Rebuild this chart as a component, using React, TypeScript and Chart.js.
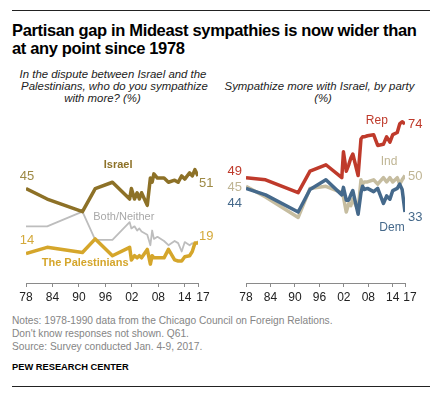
import React, { useEffect, useRef } from "react";
import { Chart, registerables } from "chart.js";

Chart.register(...registerables);

// ---- Data ----
const surveyYears = [1978, 1982.8, 1990.8, 1993.7, 1997.6, 2001.5, 2001.9, 2002.6, 2003.2, 2003.7, 2004.2, 2005.5, 2006.2, 2006.6, 2007.0, 2007.8, 2009.3, 2010.3, 2011.7, 2012.5, 2013.3, 2014.0, 2015.1, 2015.7, 2016.3, 2017.0];

const israel = [45, 40, 34, 45, 48, 40, 45, 40, 43, 40, 43, 37, 50, 48, 52, 50, 50, 48, 49, 48, 51, 49.5, 52.5, 51, 54, 51];
const palestinians = [14, 17, 14.5, 21, 13, 17, 11, 13, 12, 13, 12, 16, 9, 13, 12, 12, 12, 16, 11, 10.5, 10.5, 12.5, 13, 15, 19, 19];
const bothNeither = [27, 27, 34, 20.5, 20.5, 29, 26, 27, 25, 26, 24.5, 23, 18, 25, 21, 22, 20, 18, 20, 19, 15, 19.5, 18, 19, 18, 20];

const rep = [49, 48, 42, 52, 55, 49, 61, 52, 55, 58, 60, 50, 67, 68, 68, 68.5, 69, 64, 64.5, 68, 65.5, 69, 70, 74, 75, 74];
const ind = [45, 40, 30.5, 44, 45, 42, 40, 33, 37, 36, 39, 34, 48, 46, 47, 47, 48, 46, 49, 47, 49, 47, 49, 46, 48, 50];
const dem = [44, 41, 33, 43.5, 48, 41, 44.5, 38.5, 38.5, 41, 43, 32, 42, 45, 43.5, 44, 42.5, 44, 37, 40.5, 39, 43, 44, 46, 43.5, 33];

const tickYears = [1978, 1984, 1990, 1996, 2002, 2008, 2014, 2017];
const tickLabels = ["78", "84", "90", "96", "02", "08", "14", "17"];

// ---- Styles ----
const C = {
  israel: "#8D7127",
  israelText: "#9E8A45",
  pal: "#D5A62B",
  palText: "#D4A93A",
  both: "#BDBDBD",
  bothText: "#A8A8A8",
  rep: "#BF3A2B",
  ind: "#C6BDA0",
  indText: "#BFB594",
  dem: "#45698B",
};
const FONT = "Arial, 'Liberation Sans', sans-serif";

const toPoints = (vals: number[]) => vals.map((v, i) => ({ x: surveyYears[i], y: v }));

type Lbl = {
  text: string;
  ds?: number;
  at?: "first" | "last";
  x?: number;
  y?: number;
  dx: number;
  dy: number;
  align: CanvasTextAlign;
  color: string;
  font: string;
};

function labelPlugin(labels: Lbl[]) {
  return {
    id: "textLabels",
    afterDatasetsDraw(chart: any) {
      const { ctx, scales } = chart;
      ctx.save();
      ctx.textBaseline = "middle";
      for (const l of labels) {
        let px: number, py: number;
        if (l.ds !== undefined) {
          const data = chart.data.datasets[l.ds].data;
          const p = l.at === "first" ? data[0] : data[data.length - 1];
          px = scales.x.getPixelForValue(p.x);
          py = scales.y.getPixelForValue(p.y);
        } else {
          px = scales.x.getPixelForValue(l.x);
          py = scales.y.getPixelForValue(l.y);
        }
        ctx.font = l.font;
        ctx.fillStyle = l.color;
        ctx.textAlign = l.align;
        ctx.fillText(l.text, px + l.dx, py + l.dy);
      }
      ctx.restore();
    },
  };
}

type ChartProps = {
  left: number;
  top: number;
  width: number;
  height: number;
  padLeft: number;
  padRight: number;
  yMax: number;
  datasets: any[];
  labels: Lbl[];
};

function LineChart(props: ChartProps) {
  const ref = useRef<HTMLCanvasElement>(null);
  useEffect(() => {
    const chart = new Chart(ref.current!, {
      type: "line",
      data: { datasets: props.datasets },
      options: {
        responsive: false,
        animation: false,
        devicePixelRatio: 1,
        layout: { padding: { left: props.padLeft, right: props.padRight, top: 0, bottom: 0 } },
        plugins: { legend: { display: false }, tooltip: { enabled: false } },
        elements: {
          point: { radius: 0 },
          line: { tension: 0, borderJoinStyle: "round", borderCapStyle: "butt" },
        },
        scales: {
          x: {
            type: "linear",
            min: 1978,
            max: 2017,
            afterBuildTicks: (s: any) => {
              s.ticks = tickYears.map((v) => ({ value: v }));
            },
            afterFit: (s: any) => {
              s.paddingLeft = 0;
              s.paddingRight = 0;
              s.height = 30;
            },
            grid: { display: true, drawOnChartArea: false, drawTicks: true, tickLength: 4, color: "#8a8a8a" },
            border: { display: true, color: "#8a8a8a" },
            ticks: {
              autoSkip: false,
              maxRotation: 0,
              padding: 3,
              color: "#222",
              font: { family: FONT, size: 12 },
              // the last label sits a little right of its tick, as in the original
              callback: (v: any) => {
                const i = tickYears.indexOf(Number(v));
                return i === tickYears.length - 1 ? "   " + tickLabels[i] : tickLabels[i];
              },
            },
          },
          y: { display: false, min: 0, max: props.yMax },
        },
      },
      plugins: [labelPlugin(props.labels)],
    } as any);
    return () => chart.destroy();
  }, []);
  return (
    <canvas
      ref={ref}
      width={props.width}
      height={props.height}
      style={{ position: "absolute", left: props.left, top: props.top, width: props.width, height: props.height }}
    />
  );
}

const numFont = `13px ${FONT}`;
const boldLbl = `bold 11px ${FONT}`;

const leftDatasets = [
  { data: toPoints(israel), borderColor: C.israel, borderWidth: 3.5 },
  { data: toPoints(palestinians), borderColor: C.pal, borderWidth: 3.5 },
  { data: toPoints(bothNeither), borderColor: C.both, borderWidth: 1.8 },
];
const leftLabels: Lbl[] = [
  { text: "45", ds: 0, at: "first", dx: 1, dy: -12.5, align: "center", color: C.israelText, font: numFont },
  { text: "51", ds: 0, at: "last", dx: 1, dy: 7, align: "left", color: C.israelText, font: numFont },
  { text: "14", ds: 1, at: "first", dx: 1, dy: -13.5, align: "center", color: C.palText, font: numFont },
  { text: "19", ds: 1, at: "last", dx: 1, dy: -7, align: "left", color: C.palText, font: numFont },
  { text: "Israel", x: 1998.9, y: 56.2, dx: 0, dy: 0, align: "center", color: C.israel, font: boldLbl },
  { text: "Both/Neither", x: 1993.25, y: 31.4, dx: 0, dy: 0, align: "left", color: C.bothText, font: `11px ${FONT}` },
  { text: "The Palestinians", x: 1991.4, y: 9.4, dx: 0, dy: 0, align: "center", color: C.pal, font: boldLbl },
];

const rightDatasets = [
  { data: toPoints(rep), borderColor: C.rep, borderWidth: 3.5 },
  { data: toPoints(dem), borderColor: C.dem, borderWidth: 3.5 },
  { data: toPoints(ind), borderColor: C.ind, borderWidth: 3.5 },
];
const rightLabels: Lbl[] = [
  { text: "Rep", x: 2010.1, y: 75.5, dx: 0, dy: 0, align: "center", color: C.rep, font: `12px ${FONT}` },
  { text: "74", ds: 0, at: "last", dx: 3, dy: 1, align: "left", color: C.rep, font: numFont },
  { text: "49", ds: 0, at: "first", dx: -4, dy: -6, align: "right", color: C.rep, font: numFont },
  { text: "45", ds: 2, at: "first", dx: -4, dy: 1.5, align: "right", color: C.indText, font: numFont },
  { text: "44", ds: 1, at: "first", dx: -4, dy: 15.5, align: "right", color: C.dem, font: numFont },
  { text: "Ind", x: 2013.1, y: 56.3, dx: 0, dy: 0, align: "center", color: C.indText, font: `12px ${FONT}` },
  { text: "50", ds: 2, at: "last", dx: 3, dy: 0.5, align: "left", color: C.indText, font: numFont },
  { text: "33", ds: 1, at: "last", dx: 3, dy: 5, align: "left", color: C.dem, font: numFont },
  { text: "Dem", x: 2013.8, y: 25.7, dx: 0, dy: 0, align: "center", color: C.dem, font: `12px ${FONT}` },
];

const abs = (s: React.CSSProperties): React.CSSProperties => ({ position: "absolute", margin: 0, ...s });

export default function App() {
  return (
    <div style={abs({ left: 0, top: 0, width: 437, height: 397, background: "#fff", overflow: "hidden", fontFamily: FONT })}>
      <div style={abs({ left: 12, top: 10, width: 418, height: 1, background: "#222" })} />
      <div
        style={abs({
          left: 12,
          top: 20.5,
          fontSize: 16.5,
          lineHeight: "18.5px",
          fontWeight: "bold",
          letterSpacing: -0.35,
          color: "#000",
          whiteSpace: "nowrap",
        })}
      >
        Partisan gap in Mideast sympathies is now wider than
        <br />
        at any point since 1978
      </div>
      {[
        { t: "In the dispute between Israel and the", c: 113, top: 67.5 },
        { t: "Palestinians, who do you sympathize", c: 114.5, top: 79.5 },
        { t: "with more? (%)", c: 102.5, top: 91.5 },
        { t: "Sympathize more with Israel, by party", c: 319.5, top: 79.5 },
        { t: "(%)", c: 323, top: 91.5 },
      ].map((l, i) => (
        <div
          key={i}
          style={abs({
            left: l.c - 120,
            width: 240,
            top: l.top,
            textAlign: "center",
            fontStyle: "italic",
            fontSize: 11.4,
            lineHeight: "12px",
            color: "#222",
            whiteSpace: "nowrap",
          })}
        >
          {l.t}
        </div>
      ))}
      <LineChart left={0} top={105} width={222} height={208} padLeft={26} padRight={24} yMax={84.8} datasets={leftDatasets} labels={leftLabels} />
      <LineChart left={222} top={105} width={215} height={208} padLeft={24} padRight={32} yMax={82.8} datasets={rightDatasets} labels={rightLabels} />
      <div style={abs({ left: 12, top: 315.3, fontSize: 10.2, lineHeight: "12.8px", color: "#858585", whiteSpace: "nowrap" })}>
        Notes: 1978-1990 data from the Chicago Council on Foreign Relations.
        <br />
        Don't know responses not shown. Q61.
        <br />
        Source: Survey conducted Jan. 4-9, 2017.
      </div>
      <div style={abs({ left: 12, top: 360.7, fontSize: 9.3, lineHeight: "12px", fontWeight: "bold", color: "#000", whiteSpace: "nowrap" })}>
        PEW RESEARCH CENTER
      </div>
      <div style={abs({ left: 12, top: 386, width: 418, height: 1, background: "#222" })} />
    </div>
  );
}
